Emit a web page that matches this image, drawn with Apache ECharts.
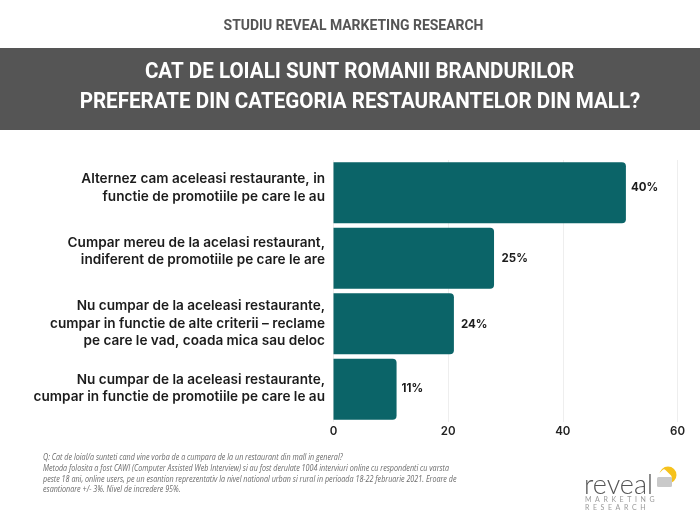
<!DOCTYPE html>
<html>
<head>
<meta charset="utf-8">
<style>
  html, body { margin: 0; padding: 0; background: #fff; }
  #chart { width: 700px; height: 525px; }
</style>
<script src="https://cdn.jsdelivr.net/npm/echarts@6/dist/echarts.min.js"></script>
</head>
<body>
<div id="chart"></div>
<script>
// date
const categories = [
    'Alternez cam aceleasi restaurante, in\nfunctie de promotiile pe care le au',
    'Cumpar mereu de la acelasi restaurant,\nindiferent de promotiile pe care le are',
    'Nu cumpar de la aceleasi restaurante,\ncumpar in functie de alte criterii – reclame\npe care le vad, coada mica sau deloc',
    'Nu cumpar de la aceleasi restaurante,\ncumpar in functie de promotiile pe care le au'
];
// lungimea barelor nu corespunde etichetelor in original, le pastram separat
const barValues = [51, 28, 21, 11];
const barLabels = ['40%', '25%', '24%', '11%'];
const axisTicks = [0, 20, 40, 60];

const heading = 'STUDIU REVEAL MARKETING RESEARCH';
const titleLines = [
    'CAT DE LOIALI SUNT ROMANII BRANDURILOR',
    'PREFERATE DIN CATEGORIA RESTAURANTELOR DIN MALL?'
];
const footnoteLines = [
    'Q: Cat de loial/a sunteti cand vine vorba de a cumpara de la un restaurant din mall in general?',
    'Metoda folosita a fost CAWI (Computer Assisted Web Interview) si au fost derulate 1004 interviuri online cu respondenti cu varsta',
    'peste 18 ani, online users, pe un esantion reprezentativ la nivel national urban si rural in perioada 18-22 februarie 2021. Eroare de',
    'esantionare +/- 3%. Nivel de incredere 95%.'
];

// decalaj eticheta fata de bara
const labelOffsets = [[0, -5.5], [2.5, 0], [2, 0.5], [0, -1]];
// textele din stanga nu sunt centrate pe bare in original: un rand gol le urca
const categoryPads = [10, 14, 0, 2];

const textFont = 'Inter';
const barColor = '#0b6468';

// text ingustat, nu avem font condensat instalat
function narrowText(text, x, y, size, sx, fill) {
    return {
        type: 'text', x: x, y: y, z: 2,
        scaleX: sx,
        style: { text: text, textAlign: 'center', textVerticalAlign: 'middle', fontFamily: 'Roboto', fontWeight: 'bold', fontSize: size, fill: fill }
    };
}

const padStyles = {};
categoryPads.forEach((p, i) => { padStyles['g' + i] = { lineHeight: p, fontSize: 1 }; });

const myChart = echarts.init(document.getElementById('chart'));

const option = {
    backgroundColor: '#fff',
    animation: false,
    grid: { left: 333.5, right: 22.5, top: 160, bottom: 103 },
    xAxis: {
        type: 'value',
        min: axisTicks[0],
        max: axisTicks[axisTicks.length - 1],
        interval: 20,
        axisLine: { show: false },
        axisTick: { show: false },
        splitLine: { lineStyle: { color: '#eeeeee', width: 1 } },
        axisLabel: { color: '#222', fontFamily: textFont, fontWeight: 600, fontSize: 11.5, margin: 4 }
    },
    yAxis: {
        type: 'category',
        inverse: true,
        data: categories,
        axisLine: { show: false },
        axisTick: { show: false },
        axisLabel: {
            color: '#1c1c1c',
            fontFamily: textFont,
            fontWeight: 600,
            fontSize: 13.6,
            lineHeight: 17.5,
            align: 'right',
            margin: 8.5,
            rich: padStyles,
            formatter: (value, i) => categoryPads[i] ? value + '\n{g' + i + '| }' : value
        }
    },
    series: [{
        type: 'bar',
        data: barValues.map((v, i) => ({
            value: v,
            label: { formatter: barLabels[i], offset: labelOffsets[i] }
        })),
        barCategoryGap: '7%',
        itemStyle: { color: barColor, borderRadius: [0, 4, 4, 0] },
        label: {
            show: true,
            position: 'right',
            distance: 5,
            color: '#1c1c1c',
            fontFamily: textFont,
            fontWeight: 700,
            fontSize: 11.5
        }
    }],
    graphic: [
        narrowText(heading, 353.5, 26, 15.5, 0.9, '#555555'),
        { type: 'rect', shape: { x: 0, y: 48, width: 700, height: 82 }, style: { fill: '#555555' }, z: 1 },
        narrowText(titleLines[0], 359.5, 72, 22.5, 0.915, '#fff'),
        narrowText(titleLines[1], 360, 102, 22.5, 0.915, '#fff'),
        ...footnoteLines.map((line, i) => ({
            type: 'text',
            x: 43,
            y: [453.5, 464.5, 475, 485.5][i],
            scaleX: 0.844,
            style: { text: line, fontFamily: 'Open Sans', fontStyle: 'italic', fontSize: 8.5, fill: '#6a6a6a' }
        })),
        // logo reveal
        { type: 'circle', shape: { cx: 668, cy: 475, r: 8.5 }, style: { fill: '#f6c21c' } },
        { type: 'rect', rotation: Math.PI / 4, originX: 664, originY: 477, shape: { x: 658, y: 471, width: 12, height: 12, r: 2 }, style: { fill: '#fff' } },
        { type: 'rect', shape: { x: 657, y: 477, width: 15, height: 10, r: 1.5 }, style: { fill: '#c9c9c9' } },
        { type: 'text', x: 584, y: 472, style: { text: 'reveal', fontFamily: 'Lato', fontWeight: 300, fontSize: 27, fill: '#555555' } },
        { type: 'text', x: 585, y: 496, style: { text: 'M  A  R  K  E  T  I  N  G', fontFamily: 'Lato', fontSize: 7, fill: '#9a9a9a' } },
        { type: 'text', x: 585, y: 504, style: { text: 'R  E  S  E  A  R  C  H', fontFamily: 'Lato', fontSize: 7, fill: '#9a9a9a' } }
    ]
};

myChart.setOption(option);
</script>
</body>
</html>
